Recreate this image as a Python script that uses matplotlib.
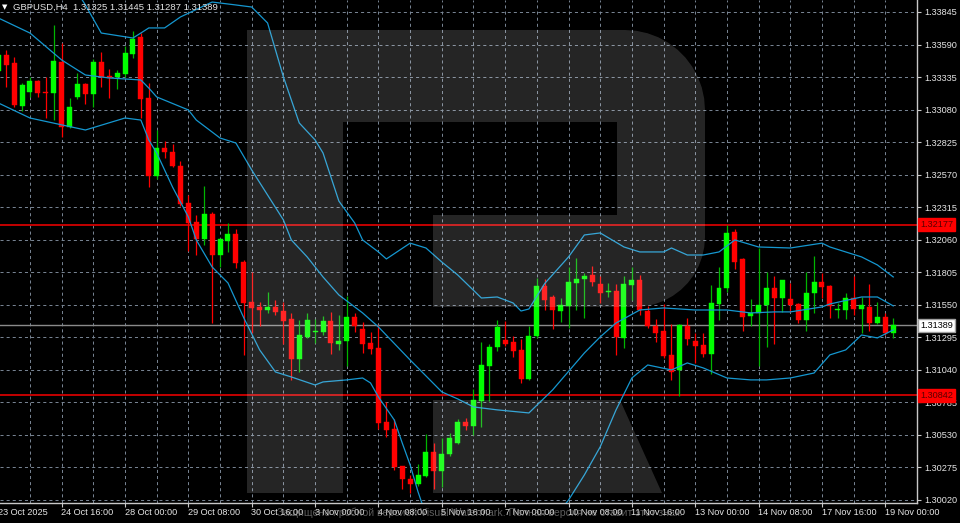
import matplotlib
matplotlib.use("Agg")
import matplotlib.pyplot as plt
from matplotlib.patches import Rectangle, Polygon
from matplotlib.transforms import blended_transform_factory
import numpy as np

plt.rcParams['font.family'] = ['Liberation Sans', 'DejaVu Sans']
plt.rcParams['lines.scale_dashes'] = False

# GBPUSD H4 candles (open, high, low, close)
opens = [1.33383, 1.33508, 1.33445, 1.33108, 1.33218, 1.33304, 1.33218, 1.33210, 1.33453, 1.32944,
         1.33179, 1.33281, 1.33202, 1.33453, 1.33343, 1.33336, 1.33359, 1.33516, 1.33649, 1.33171,
         1.32559, 1.32779, 1.32748, 1.32638, 1.32348, 1.32199, 1.32066, 1.32262, 1.31940, 1.32050,
         1.32105, 1.31885, 1.31572, 1.31533, 1.31509, 1.31533, 1.31501, 1.31439, 1.31125, 1.31298,
         1.31337, 1.31337, 1.31423, 1.31243, 1.31266, 1.31454, 1.31360, 1.31251, 1.31211, 1.30631,
         1.30577, 1.30287, 1.30185, 1.30145, 1.30208, 1.30396, 1.30247, 1.30381, 1.30467, 1.30631,
         1.30600, 1.30796, 1.31070, 1.31219, 1.31274, 1.31258, 1.31196, 1.30968, 1.31305, 1.31697,
         1.31611, 1.31501, 1.31541, 1.31721, 1.31752, 1.31784, 1.31713, 1.31650, 1.31658, 1.31290,
         1.31705, 1.31744, 1.31501, 1.31384, 1.31345, 1.31157, 1.31039, 1.31384, 1.31266, 1.31235,
         1.31164, 1.31556, 1.31682, 1.32121, 1.31909, 1.31462, 1.31486, 1.31548, 1.31682, 1.31603,
         1.31595, 1.31556, 1.31431, 1.31643, 1.31729, 1.31697, 1.31509, 1.31509, 1.31603, 1.31517,
         1.31533, 1.31407, 1.31454, 1.31325]
highs = [1.33531, 1.33547, 1.33492, 1.33288, 1.33336, 1.33312, 1.33336, 1.33743, 1.33602, 1.33171,
         1.33367, 1.33288, 1.33477, 1.33531, 1.33398, 1.33390, 1.33578, 1.33696, 1.33680, 1.33288,
         1.32920, 1.32834, 1.32810, 1.32677, 1.32411, 1.32254, 1.32481, 1.32277, 1.32074, 1.32191,
         1.32144, 1.31901, 1.31807, 1.31572, 1.31650, 1.31588, 1.31572, 1.31486, 1.31431, 1.31486,
         1.31439, 1.31462, 1.31494, 1.31470, 1.31619, 1.31486, 1.31415, 1.31337, 1.31392, 1.30788,
         1.30655, 1.30287, 1.30216, 1.30302, 1.30537, 1.30467, 1.30506, 1.30545, 1.30655, 1.30663,
         1.30890, 1.31258, 1.31243, 1.31431, 1.31423, 1.31305, 1.31282, 1.31384, 1.31760, 1.31752,
         1.31627, 1.31603, 1.31846, 1.31917, 1.31799, 1.31854, 1.31776, 1.31721, 1.31713, 1.31776,
         1.31846, 1.31784, 1.31541, 1.31439, 1.31556, 1.31400, 1.31400, 1.31447, 1.31329, 1.31329,
         1.31705, 1.31846, 1.32175, 1.32144, 1.31917, 1.31595, 1.31995, 1.31807, 1.31776, 1.31744,
         1.31721, 1.31564, 1.31807, 1.31932, 1.31799, 1.31705, 1.31564, 1.31643, 1.31776, 1.31611,
         1.31713, 1.31572, 1.31486, 1.31445]
lows = [1.33359, 1.33257, 1.33100, 1.33069, 1.33179, 1.33179, 1.33014, 1.32998, 1.32865, 1.32936,
        1.33163, 1.33124, 1.33100, 1.33257, 1.33171, 1.33241, 1.33336, 1.33484, 1.33014, 1.32473,
        1.32536, 1.32701, 1.32630, 1.32325, 1.31972, 1.31940, 1.32019, 1.31407, 1.31846, 1.31964,
        1.31838, 1.31157, 1.31329, 1.31384, 1.31486, 1.31470, 1.31243, 1.30961, 1.31023, 1.31290,
        1.31251, 1.31313, 1.31164, 1.31196, 1.31070, 1.31337, 1.31172, 1.31164, 1.30577, 1.30514,
        1.30255, 1.30106, 1.30075, 1.30130, 1.30200, 1.30106, 1.30122, 1.30365, 1.30459, 1.30569,
        1.30530, 1.30592, 1.30796, 1.31188, 1.31227, 1.31141, 1.30937, 1.30961, 1.31290, 1.31509,
        1.31360, 1.31415, 1.31368, 1.31509, 1.31447, 1.31697, 1.31564, 1.31611, 1.31157, 1.31211,
        1.31588, 1.31470, 1.31368, 1.31258, 1.31133, 1.30961, 1.30835, 1.31235, 1.31094, 1.31141,
        1.31008, 1.31431, 1.31650, 1.31831, 1.31345, 1.31384, 1.31070, 1.31219, 1.31243, 1.31494,
        1.31494, 1.31407, 1.31345, 1.31486, 1.31603, 1.31447, 1.31447, 1.31439, 1.31470, 1.31329,
        1.31345, 1.31400, 1.31313, 1.31287]
closes = [1.33508, 1.33430, 1.33116, 1.33273, 1.33304, 1.33210, 1.33210, 1.33461, 1.32944, 1.33100,
          1.33281, 1.33202, 1.33453, 1.33336, 1.33328, 1.33367, 1.33524, 1.33633, 1.33163, 1.32559,
          1.32779, 1.32748, 1.32638, 1.32340, 1.32191, 1.32066, 1.32262, 1.31940, 1.32066, 1.32105,
          1.31878, 1.31564, 1.31525, 1.31509, 1.31533, 1.31494, 1.31423, 1.31125, 1.31313, 1.31431,
          1.31345, 1.31423, 1.31251, 1.31266, 1.31454, 1.31384, 1.31243, 1.31204, 1.30624, 1.30569,
          1.30279, 1.30185, 1.30145, 1.30216, 1.30396, 1.30247, 1.30381, 1.30506, 1.30631, 1.30600,
          1.30804, 1.31078, 1.31219, 1.31376, 1.31243, 1.31188, 1.30968, 1.31305, 1.31697, 1.31588,
          1.31509, 1.31548, 1.31729, 1.31752, 1.31776, 1.31729, 1.31643, 1.31658, 1.31298, 1.31713,
          1.31744, 1.31509, 1.31384, 1.31329, 1.31149, 1.31023, 1.31392, 1.31282, 1.31227, 1.31164,
          1.31564, 1.31682, 1.32113, 1.31885, 1.31454, 1.31486, 1.31548, 1.31682, 1.31603, 1.31744,
          1.31548, 1.31431, 1.31643, 1.31729, 1.31689, 1.31541, 1.31517, 1.31603, 1.31517, 1.31548,
          1.31407, 1.31454, 1.31325, 1.31389]

# Bollinger bands, sampled at bar indices
upper_idx = [0, 9, 11, 13, 17, 18, 19, 21, 23, 27, 30, 32, 34, 36, 38, 40, 41, 43, 45, 46, 48, 49, 52, 54,
             56, 58, 61, 63, 65, 66, 67, 69, 72, 74, 76, 79, 81, 84, 85, 87, 89, 91, 93, 96, 100, 104,
             105, 109, 111, 113]
upper_val = [1.3420, 1.34096, 1.33900, 1.33680, 1.33641, 1.33680, 1.33720, 1.33720, 1.33806, 1.33923,
             1.33900, 1.33884, 1.33759, 1.33336, 1.32975, 1.32842, 1.32740, 1.32363, 1.32191, 1.32058,
             1.31964, 1.31909, 1.32033, 1.31995, 1.31885, 1.31784, 1.31603, 1.31611, 1.31564, 1.31501,
             1.31517, 1.31717, 1.31925, 1.32097, 1.32113, 1.32003, 1.31964, 1.31964, 1.31995, 1.31940,
             1.31940, 1.31964, 1.32058, 1.32003, 1.31995, 1.32033, 1.32003, 1.31925, 1.31862, 1.31768]
mid_idx = [0, 4, 8, 11, 14, 18, 19, 20, 24, 25, 28, 30, 32, 36, 37, 39, 41, 43, 46, 48, 52, 56, 58, 60,
           63, 67, 70, 74, 76, 78, 81, 84, 88, 92, 95, 98, 100, 104, 105, 109, 111, 113]
mid_val = [1.33798, 1.33680, 1.33469, 1.33351, 1.33328, 1.33312, 1.33249, 1.33179, 1.33077, 1.32998,
           1.32857, 1.32818, 1.32606, 1.32215, 1.32058, 1.31925, 1.31768, 1.31627, 1.31486, 1.31376,
           1.31117, 1.30867, 1.30812, 1.30749, 1.30726, 1.30702, 1.30883, 1.31172, 1.31298, 1.31407,
           1.31509, 1.31525, 1.31509, 1.31509, 1.31486, 1.31494, 1.31494, 1.31533, 1.31556, 1.31611,
           1.31611, 1.31541]
lower_idx = [0, 4, 11, 16, 18, 19, 20, 22, 24, 25, 27, 29, 31, 33, 35, 37, 40, 41, 44, 46, 47, 48, 50,
             51, 52, 53, 54, 57, 62, 67, 70, 72, 74, 76, 78, 80, 82, 85, 87, 89, 92, 95, 97, 100, 103,
             105, 107, 109, 111, 113]
lower_val = [1.33132, 1.33014, 1.32920, 1.33014, 1.32998, 1.32842, 1.32740, 1.32473, 1.32238, 1.32058,
             1.31846, 1.31721, 1.31447, 1.31196, 1.31023, 1.30984, 1.30921, 1.30945, 1.30961, 1.30976,
             1.30937, 1.30827, 1.30647, 1.30467, 1.30295, 1.30083, 1.29903, 1.29668, 1.29550, 1.29628,
             1.29863, 1.30019, 1.30216, 1.30436, 1.30726, 1.30976, 1.31078, 1.31039, 1.31094, 1.31055,
             1.30976, 1.30961, 1.30961, 1.30976, 1.31015, 1.31157, 1.31196, 1.31313, 1.31290, 1.31353]

level_high = 1.32177
level_low = 1.30842
last_price = 1.31389

price_ticks = [1.30020, 1.30275, 1.30530, 1.30785, 1.31040, 1.31295, 1.31550, 1.31805, 1.32060,
               1.32315, 1.32570, 1.32825, 1.33080, 1.33335, 1.33590, 1.33845]
time_idx = [0, 8, 16, 24, 32, 40, 48, 56, 64, 72, 80, 88, 96, 104, 112]
time_labels = ['23 Oct 2025', '24 Oct 16:00', '28 Oct 00:00', '29 Oct 08:00', '30 Oct 16:00',
               '3 Nov 00:00', '4 Nov 08:00', '5 Nov 16:00', '7 Nov 00:00', '10 Nov 08:00',
               '11 Nov 16:00', '13 Nov 00:00', '14 Nov 08:00', '17 Nov 16:00', '19 Nov 00:00']
title = 'GBPUSD,H4  1.31325 1.31445 1.31287 1.31389'
watermark = 'Защищено пробной версией Visual Watermark. Полная версия не ставит этот знак.'

W, H = 960, 523
fig = plt.figure(figsize=(W / 100, H / 100), dpi=100, facecolor='black')
ax = fig.add_axes([0, 20 / H, 917 / W, 503 / H], facecolor='black')
ax.set_xlim(0.215, 116.0)
ax.set_ylim(1.29996, 1.33939)

grid_kw = dict(color='#7a8796', lw=0.7, ls=(0, (2.2, 2.2)), zorder=1)
for p in price_ticks:
    ax.axhline(p, **grid_kw)
for g in range(4, 116, 4):
    ax.axvline(g, **grid_kw)

ax.axhline(level_high, color='#c40000', lw=1.4, zorder=2)
ax.axhline(level_low, color='#c40000', lw=1.4, zorder=2)
ax.axhline(last_price, color='#8a8a8a', lw=1.0, zorder=2)

bw = 0.63
for i, (o, h, l, c) in enumerate(zip(opens, highs, lows, closes)):
    up = c >= o
    body = '#00ff00' if up else '#ff0000'
    wick = '#00b400' if up else '#ff0000'
    ax.plot([i, i], [l, h], color=wick, lw=0.9, zorder=3, solid_capstyle='butt')
    lo, hi = min(o, c), max(o, c)
    ax.add_patch(Rectangle((i - bw / 2, lo), bw, max(hi - lo, 0.00008),
                           facecolor=body, edgecolor=body, lw=0.3, zorder=4))

band_kw = dict(color='#1597d0', lw=0.9, zorder=5)
ax.plot(upper_idx, upper_val, **band_kw)
ax.plot(mid_idx, mid_val, **band_kw)
ax.plot(lower_idx, lower_val, **band_kw)

for side in ['left', 'top']:
    ax.spines[side].set_visible(False)
for side in ['right', 'bottom']:
    ax.spines[side].set_color('#c8c8c8')
    ax.spines[side].set_linewidth(1.0)

txt = '#e6e6e6'
ax.yaxis.tick_right()
ax.set_yticks(price_ticks)
ax.set_yticklabels(['%.5f' % p for p in price_ticks])
ax.tick_params(axis='y', colors='#c8c8c8', labelcolor=txt, labelsize=6.6, length=3, width=0.8, pad=2)
ax.set_xticks([t for t in time_idx if t > 0.215])
ax.set_xticklabels([])
ax.tick_params(axis='x', colors='#c8c8c8', length=3, width=0.8)

tr = blended_transform_factory(ax.transData, ax.transAxes)
for t, lab in zip(time_idx, time_labels):
    ax.text(t - 0.05, -0.019, lab, transform=tr, color=txt, fontsize=6.6,
            ha='left', va='center', clip_on=False)

tr_y = blended_transform_factory(ax.transAxes, ax.transData)
for lvl in (level_high, level_low):
    ax.text(1.0035, lvl, '%.5f' % lvl, transform=tr_y, color='#5a0000', fontsize=6.6,
            ha='left', va='center', clip_on=False, zorder=10,
            bbox=dict(boxstyle='square,pad=0.22', facecolor='#ff0000', edgecolor='#ff0000'))
ax.text(1.0035, last_price, '%.5f' % last_price, transform=tr_y, color='black', fontsize=6.6,
        ha='left', va='center', clip_on=False, zorder=10,
        bbox=dict(boxstyle='square,pad=0.22', facecolor='white', edgecolor='#a0a0a0'))

# title
fig.text(2 / W, 1 - 7 / H, '▼', color='white', fontsize=5, va='center', ha='left',
         family='DejaVu Sans')
fig.text(13 / W, 1 - 7 / H, title, color=txt, fontsize=6.8, va='center', ha='left')

# watermark overlay in pixel coordinates
ov = fig.add_axes([0, 0, 1, 1], facecolor='none')
ov.set_xlim(0, W)
ov.set_ylim(H, 0)
ov.axis('off')
wm = dict(facecolor='white', alpha=0.15, edgecolor='none')
ov.add_patch(Polygon([(247, 30), (343, 30), (343, 493), (247, 493)], **wm))
a1 = np.linspace(np.pi / 2, 0, 12)
top_right = [(625 + 80 * np.cos(a), 110 - 80 * np.sin(a)) for a in a1]
a2 = np.linspace(0, -np.pi / 2, 12)
bot_right = [(635 + 70 * np.cos(a), 237 - 70 * np.sin(a)) for a in a2]
bowl = [(343, 30)] + top_right + bot_right + [(433, 307), (433, 215), (617, 215), (617, 122), (343, 122)]
ov.add_patch(Polygon(bowl, **wm))
ov.add_patch(Polygon([(433, 400), (620, 400), (662, 493), (433, 493)], **wm))
ov.text(480, 513, watermark, color='#9a9a9a', alpha=0.6, fontsize=7.6, ha='center', va='center')

fig.savefig('out.png', dpi=100, facecolor='black')
